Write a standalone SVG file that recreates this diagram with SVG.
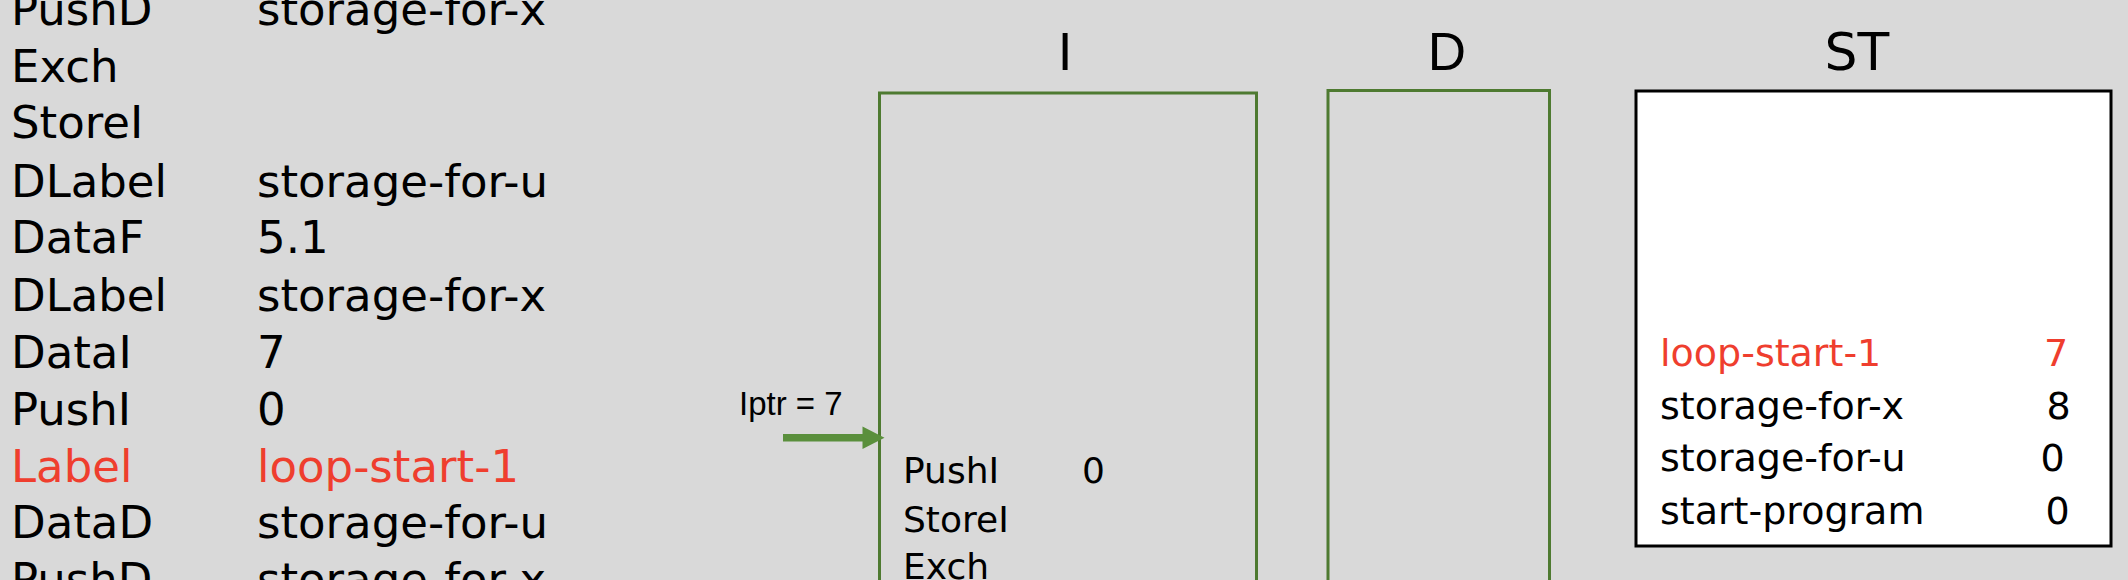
<svg xmlns="http://www.w3.org/2000/svg" width="2128" height="580" viewBox="0 0 2128 580">
<style>
.code{font-family:"DejaVu Sans",sans-serif;font-size:45px;fill:#000}
.title{font-family:"Liberation Sans",Arial,sans-serif;font-size:53px;fill:#000;text-anchor:middle}
.mem{fill:none;stroke:#4E7A31;stroke-width:3}
.itxt{font-family:"DejaVu Sans",sans-serif;font-size:36px;fill:#000}
.st{font-family:"DejaVu Sans",sans-serif;font-size:38px;fill:#000}
.ptr{font-family:"Liberation Sans",Arial,sans-serif;font-size:33px;fill:#000}
text.red{fill:#EF3E2E}
</style>
<rect x="0" y="0" width="2128" height="580" fill="#D9D9D9"/>
<g id="program">
<text class="code" x="11" y="25">PushD</text><text class="code" x="257" y="25">storage-for-x</text>
<text class="code" x="11" y="82">Exch</text>
<text class="code" x="11" y="138">StoreI</text>
<text class="code" x="11" y="197">DLabel</text><text class="code" x="257" y="197">storage-for-u</text>
<text class="code" x="11" y="253">DataF</text><text class="code" x="257" y="253">5.1</text>
<text class="code" x="11" y="311">DLabel</text><text class="code" x="257" y="311">storage-for-x</text>
<text class="code" x="11" y="368">DataI</text><text class="code" x="257" y="368">7</text>
<text class="code" x="11" y="425">PushI</text><text class="code" x="257" y="425">0</text>
<text class="code red" x="11" y="482">Label</text><text class="code red" x="257" y="482">loop-start-1</text>
<text class="code" x="11" y="538">DataD</text><text class="code" x="257" y="538">storage-for-u</text>
<text class="code" x="11" y="595">PushD</text><text class="code" x="257" y="595">storage-for-x</text>
</g>
<g id="I">
<text class="title" x="1065" y="70">I</text>
<rect class="mem" x="879.5" y="93" width="377" height="520"/>
<text class="itxt" x="903" y="483">PushI</text><text class="itxt" x="1082" y="483">0</text>
<text class="itxt" x="903" y="532">StoreI</text>
<text class="itxt" x="903" y="579">Exch</text>
</g>
<g id="D">
<text class="title" x="1447" y="70">D</text>
<rect class="mem" x="1328" y="90.5" width="221.5" height="520"/>
</g>
<g id="ST">
<text class="st" x="1857" y="69.5" text-anchor="middle" style="font-size:52px">ST</text>
<rect x="1636" y="91" width="475" height="455" fill="#FFFFFF" stroke="#000" stroke-width="3"/>
<text class="st red" x="1660" y="366">loop-start-1</text><text class="st red" x="2044" y="366">7</text>
<text class="st" x="1660" y="419">storage-for-x</text><text class="st" x="2046.5" y="419">8</text>
<text class="st" x="1660" y="471">storage-for-u</text><text class="st" x="2040.5" y="471">0</text>
<text class="st" x="1660" y="523.5">start-program</text><text class="st" x="2045.5" y="523.5">0</text>
</g>
<g id="iptr">
<text class="ptr" x="739" y="415">Iptr = 7</text>
</g>
<g id="connectors">
<path d="M783,434 L862.5,434 L862.5,426.5 L884.5,437.8 L862.5,449 L862.5,441.6 L783,441.6 Z" fill="#5A8F3C"/>
</g>
</svg>
